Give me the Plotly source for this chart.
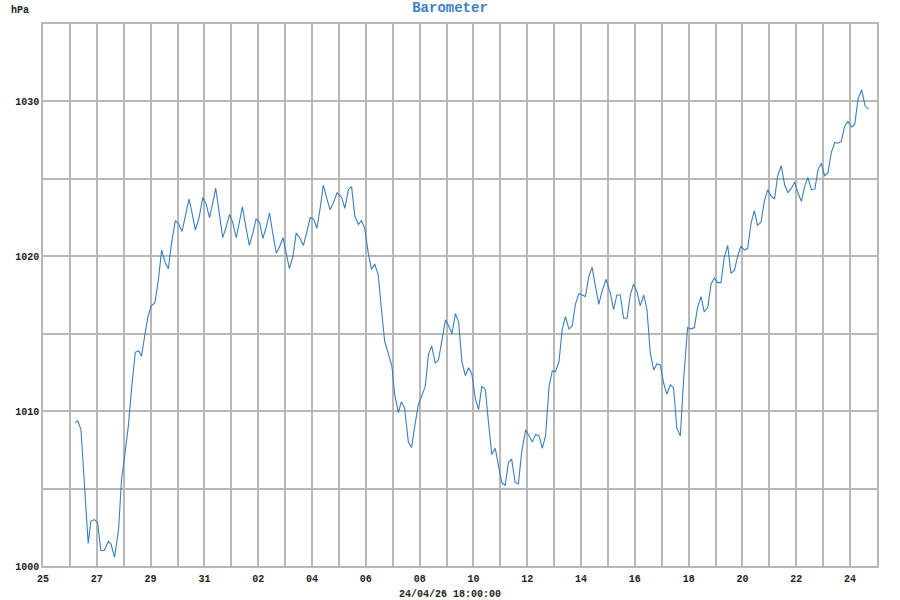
import pandas as pd
import plotly.graph_objects as go

# ---- data (day offsets from 2026-03-25 00:00, pressure in hPa) ----
start_date = "2026-03-25"
days_a = [1.19,1.29,1.41,1.53,1.68,1.78,1.91,2.03,2.15,2.28,2.43,2.53,2.66,2.81,2.92,3.05,3.17,3.30,3.43,3.56,
          3.66,3.78,3.90,4.03,4.16,4.29,4.41,4.54,4.66,4.78,4.92,5.04,5.17,5.29,5.43,5.54,5.66,5.79,5.94,6.06,
          6.19,6.31,6.42,6.55,6.68,6.81,6.93,7.05,7.18,7.30,7.41,7.54,7.67,7.80,7.92,8.05,8.17,8.30,8.42,8.54,
          8.67,8.79,8.92,9.04,9.16,9.29,9.41,9.54,9.68,9.81,9.93,10.06,10.18,10.31,10.42,10.54,10.67,10.79,10.93]
hpa_a = [1009.26,1009.37,1008.83,1005.4,1001.45,1002.9,1003.0,1002.8,1001.0,1001.0,1001.6,1001.4,1000.55,1002.4,
         1005.6,1007.3,1009.0,1011.6,1013.8,1013.9,1013.55,1014.85,1016.1,1016.8,1017.0,1018.5,1020.4,1019.6,
         1019.2,1020.9,1022.3,1022.1,1021.6,1022.6,1023.7,1022.8,1021.7,1022.4,1023.8,1023.4,1022.5,1023.45,
         1024.4,1022.8,1021.2,1021.9,1022.7,1022.2,1021.2,1022.2,1023.2,1021.9,1020.7,1021.5,1022.4,1022.2,
         1021.15,1021.9,1022.8,1021.5,1020.2,1020.6,1021.2,1020.2,1019.2,1020.0,1021.5,1021.2,1020.7,1021.6,
         1022.5,1022.4,1021.8,1023.2,1024.6,1023.8,1023.0,1023.45,1024.1]
days_b = [11.10,11.22,11.35,11.47,11.59,11.72,11.84,11.96,12.09,12.21,12.33,12.46,12.58,12.70,12.82,12.97,13.07,
          13.21,13.32,13.44,13.58,13.70,13.82,13.95,14.08,14.21,14.33,14.45,14.58,14.70,14.83,14.96,15.08,15.20,
          15.33,15.45,15.57,15.70,15.82,15.94,16.07,16.19,16.31,16.44,16.56,16.68,16.81,16.93,17.05,17.18,17.30,
          17.42,17.55,17.67,17.79,17.94,18.07,18.19,18.31,18.44,18.56,18.68,18.81,18.93,19.05,19.18,19.30,19.42,
          19.55,19.67,19.79,19.92,20.04,20.16,20.29,20.41,20.53,20.66,20.78,20.93]
hpa_b = [1023.8,1023.1,1024.3,1024.5,1022.6,1022.05,1022.3,1021.8,1020.2,1019.15,1019.5,1018.8,1016.6,1014.5,
         1013.8,1012.9,1011.1,1009.9,1010.6,1010.2,1008.0,1007.65,1009.05,1010.4,1011.0,1011.6,1013.7,1014.2,
         1013.1,1013.3,1014.6,1015.9,1015.5,1015.0,1016.3,1015.75,1013.2,1012.3,1012.8,1012.4,1010.8,1010.1,
         1011.6,1011.4,1009.25,1007.2,1007.6,1006.6,1005.4,1005.2,1006.7,1006.9,1005.4,1005.3,1007.3,1008.8,
         1008.4,1008.0,1008.5,1008.4,1007.6,1008.4,1011.6,1012.6,1012.55,1013.2,1015.3,1016.1,1015.3,1015.5,
         1016.9,1017.6,1017.5,1017.4,1018.7,1019.3,1018.1,1016.9,1017.75,1018.5]
days_c = [21.09,21.21,21.33,21.46,21.58,21.71,21.83,21.95,22.08,22.20,22.33,22.45,22.57,22.70,22.82,22.94,23.07,
          23.19,23.32,23.44,23.56,23.69,23.81,23.96,24.09,24.21,24.33,24.46,24.58,24.71,24.83,24.95,25.08,25.20,
          25.32,25.45,25.57,25.70,25.82,25.94,26.07,26.19,26.32,26.44,26.56,26.69,26.81,26.94,27.06,27.19,27.31,
          27.44,27.57,27.69,27.82,27.94,28.06,28.19,28.31,28.43,28.56,28.69,28.81,28.93,29.05,29.18,29.30,29.43,
          29.55,29.67,29.80,29.92,30.05,30.17,30.30,30.43,30.56,30.68]
hpa_c = [1017.6,1016.55,1017.5,1017.5,1016.0,1016.0,1017.5,1018.2,1017.7,1016.8,1017.5,1016.55,1013.8,1012.65,
         1013.05,1013.0,1011.8,1011.1,1011.7,1011.5,1008.9,1008.4,1012.0,1015.4,1015.3,1015.4,1016.7,1017.4,
         1016.4,1016.7,1018.2,1018.6,1018.3,1018.3,1019.9,1020.7,1018.9,1019.1,1020.0,1020.65,1020.4,1020.5,
         1022.15,1022.95,1022.0,1022.2,1023.55,1024.3,1023.9,1023.7,1025.2,1025.85,1024.6,1024.1,1024.4,1024.8,
         1024.1,1023.55,1024.5,1025.1,1024.3,1024.35,1025.6,1026.0,1025.2,1025.4,1026.7,1027.35,1027.3,1027.4,
         1028.4,1028.7,1028.35,1028.5,1030.2,1030.75,1029.7,1029.5]

title_text = "Barometer"
y_unit = "hPa"
x_title = "24/04/26 18:00:00"
x_range = ["2026-03-25 00:00", "2026-04-25 00:00"]
y_range = [1000, 1035]

assert len(days_a) == len(hpa_a) and len(days_b) == len(hpa_b) and len(days_c) == len(hpa_c)
days = days_a + days_b + days_c
hpa = hpa_a + hpa_b + hpa_c
times = pd.Timestamp(start_date) + pd.to_timedelta(days, unit="D")

GRID = "#b8b8b8"
MONO = "Liberation Mono, Courier New, monospace"

fig = go.Figure(go.Scatter(x=times, y=hpa, mode="lines",
                           line=dict(color="#3a7fc0", width=1.1), hoverinfo="x+y"))

fig.update_layout(
    width=900, height=600,
    margin=dict(l=43, r=23, t=24, b=34),
    paper_bgcolor="white", plot_bgcolor="white",
    showlegend=False,
    title=dict(text=title_text, x=0.5, xanchor="center", y=1 - 7 / 600, yanchor="middle",
               font=dict(family=MONO, size=14, color="#3a82c4", weight="bold")),
    xaxis=dict(type="date", range=x_range, tick0="2026-03-25", dtick=2 * 86400000,
               tickformat="%d", showgrid=True, gridcolor=GRID, gridwidth=1.5,
               minor=dict(dtick=86400000, showgrid=True, gridcolor=GRID, gridwidth=1.5),
               showline=True, linecolor=GRID, linewidth=1.5, mirror=True,
               ticks="", ticklen=0, zeroline=False, ticklabelstandoff=2,
               tickfont=dict(family=MONO, size=10, color="#222", weight="bold")),
    yaxis=dict(range=y_range, dtick=10, tick0=1000, showgrid=True, gridcolor=GRID, gridwidth=1.5,
               minor=dict(dtick=5, showgrid=True, gridcolor=GRID, gridwidth=1.5),
               showline=True, linecolor=GRID, linewidth=1.5, mirror=True,
               ticks="", zeroline=False,
               tickfont=dict(family=MONO, size=10, color="#222", weight="bold")),
    annotations=[
        dict(text=y_unit, xref="paper", yref="paper", x=-34 / 834, y=1 + 13 / 542,
             xanchor="left", yanchor="middle", showarrow=False,
             font=dict(family=MONO, size=10, color="#222", weight="bold")),
        dict(text=x_title, xref="paper", yref="paper", x=(450 - 43) / 834, y=-28 / 542,
             xanchor="center", yanchor="middle", showarrow=False,
             font=dict(family=MONO, size=10, color="#222", weight="bold")),
    ],
)

fig.write_html("out.html", config={"displayModeBar": False},
               post_script="document.body.style.margin='0';")
